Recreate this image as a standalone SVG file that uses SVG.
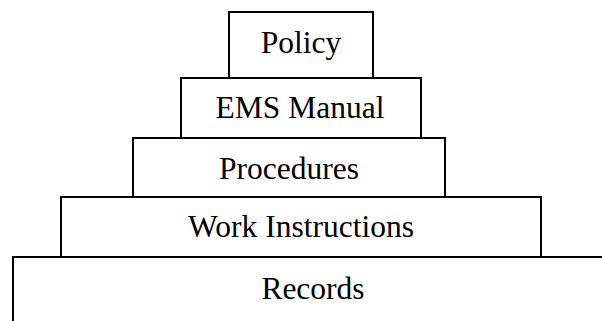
<svg xmlns="http://www.w3.org/2000/svg" width="602" height="321" viewBox="0 0 602 321">
<style>
.box{fill:#fff;stroke:#000;stroke-width:2}
.lbl{font-family:"Liberation Serif","Times New Roman",serif;font-size:31.5px;fill:#000;text-anchor:middle}
</style>
<rect width="602" height="321" fill="#fff"/>
<g id="connectors"></g>
<g id="records">
<rect class="box" x="13" y="257" width="640" height="120"/>
<text class="lbl" x="313" y="299">Records</text>
</g>
<g id="work-instructions">
<rect class="box" x="61" y="197" width="480" height="60"/>
<text class="lbl" x="301" y="237">Work Instructions</text>
</g>
<g id="procedures">
<rect class="box" x="133" y="138" width="312" height="59"/>
<text class="lbl" x="289" y="179">Procedures</text>
</g>
<g id="ems-manual">
<rect class="box" x="181" y="78" width="240" height="60"/>
<text class="lbl" x="300" y="118">EMS Manual</text>
</g>
<g id="policy">
<rect class="box" x="229" y="12" width="144" height="66"/>
<text class="lbl" x="301" y="53">Policy</text>
</g>
</svg>
